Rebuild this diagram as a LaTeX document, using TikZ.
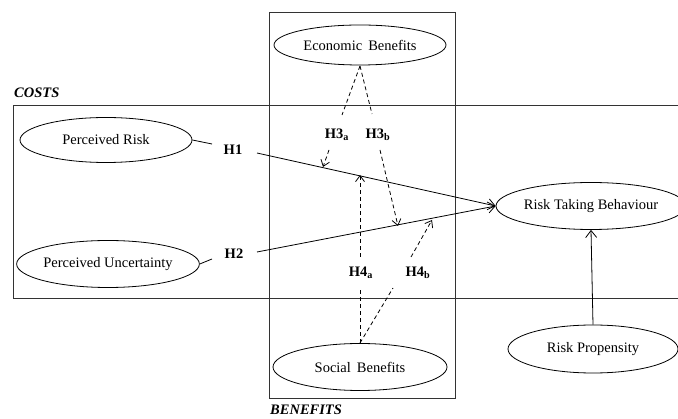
\documentclass[tikz,border=0pt]{standalone}
\usepackage{fontspec}
\setmainfont{Liberation Serif}
\usetikzlibrary{shapes.geometric,arrows.meta,calc}
\begin{document}
\begin{tikzpicture}[x=1pt,y=-1pt,
  oval/.style={draw,ellipse,line width=0.8pt,inner sep=0pt,font=\fontsize{14.5}{16}\selectfont},
  hyp/.style={font=\bfseries\fontsize{14.5}{16}\selectfont,inner sep=1pt},
  grp/.style={font=\bfseries\itshape\fontsize{14.5}{16}\selectfont,inner sep=0pt,anchor=west},
  solidarrow/.style={line width=0.8pt,-{Straight Barb[length=7pt,width=11pt,line width=0.8pt]}},
  solidseg/.style={line width=0.8pt},
  dasharrow/.style={line width=0.8pt,dash pattern=on 4pt off 3pt,-{Straight Barb[length=6pt,width=9pt,line width=0.8pt]}},
  dashseg/.style={line width=0.8pt,dash pattern=on 4pt off 3pt},
  frame/.style={line width=0.8pt,draw=black!80}]
\useasboundingbox (0,0) rectangle (678,419);
% group frames
\draw[frame] (678,105.5) -- (13,105.5) -- (13,298) -- (678,298);
\draw[frame] (269,12.5) rectangle (455,398);
\node[grp] (costs) at (14,93) {COSTS};
\node[grp] (benefits) at (270,410) {BENEFITS};
% constructs
\node[oval,minimum width=172pt,minimum height=40pt] (EB) at (360,45) {Economic\, Benefits};
\node[oval,minimum width=172pt,minimum height=45pt] (PR) at (106,140) {Perceived Risk};
\node[oval,minimum width=173pt,minimum height=47pt] (PU) at (108,264) {Perceived Uncertainty};
\node[oval,minimum width=164pt,minimum height=47pt] (RTB) at (591,206) {Risk Taking Behaviour};
\node[oval,minimum width=170pt,minimum height=48pt] (RP) at (593,349) {Risk Propensity};
\node[oval,minimum width=174pt,minimum height=47pt] (SB) at (360,367) {Social\, Benefits};
% hypothesis labels
\node[hyp] (H1) at (233,150) {H1};
\node[hyp] (H2) at (234,254) {H2};
\node[hyp] (H3a) at (337,135) {H3\textsubscript{a}};
\node[hyp] (H3b) at (378,135) {H3\textsubscript{b}};
\node[hyp] (H4a) at (361,273) {H4\textsubscript{a}};
\node[hyp] (H4b) at (418,273) {H4\textsubscript{b}};
% coordinates
\coordinate (a1) at (212,144);
\coordinate (b1) at (257,153);
\coordinate (a2) at (212,259);
\coordinate (b2) at (257,252);
\coordinate (t3a) at (323,167);
\coordinate (t3b) at (398,226);
\coordinate (t4a) at (360,175);
\coordinate (t4b) at (432,220);
\coordinate (eb) at (360,66);
\coordinate (sb) at (360,343);
\coordinate (u3a) at (342,115);
\coordinate (l3a) at (329,150);
\coordinate (u3b) at (372,114);
\coordinate (l3b) at (380,150);
\coordinate (u4a) at (360,288);
\coordinate (l4a) at (360,257);
\coordinate (u4b) at (393,288);
\coordinate (l4b) at (411,257);
% main paths
\draw[solidseg] (PR.east) -- (a1);
\draw[solidarrow] (b1) -- (RTB.west);
\draw[solidseg] (PU.east) -- (a2);
\draw[solidarrow] (b2) -- (RTB.west);
\draw[solidarrow] (RP.north) -- (RTB.south);
% moderating paths
\draw[dashseg] (eb) -- (u3a);
\draw[dasharrow] (l3a) -- (t3a);
\draw[dashseg] (eb) -- (u3b);
\draw[dasharrow] (l3b) -- (t3b);
\draw[dashseg] (sb) -- (u4a);
\draw[dasharrow] (l4a) -- (t4a);
\draw[dashseg] (sb) -- (u4b);
\draw[dasharrow] (l4b) -- (t4b);
\end{tikzpicture}
\end{document}
